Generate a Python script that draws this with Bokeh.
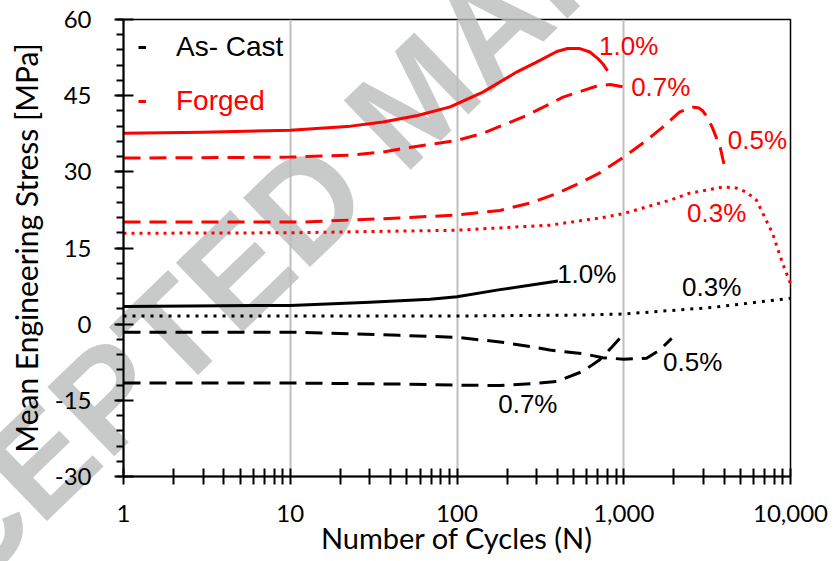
from bokeh.plotting import figure
from bokeh.models import (Range1d, FixedTicker, SingleIntervalTicker, NumeralTickFormatter,
                          Label, Legend, LegendItem)
from bokeh.core.properties import value
from bokeh.embed import file_html
from bokeh.resources import INLINE

# ---- mean engineering stress [MPa] vs number of cycles ----
# Forged material
forged_10_n = [1, 3, 10, 23, 36, 58, 91, 143, 229, 300, 397, 460, 540, 626, 700, 748, 800]
forged_10_s = [37.6, 37.8, 38.2, 39.0, 39.8, 41.1, 42.8, 45.7, 49.7, 51.6, 53.7, 54.3, 54.3, 53.6, 52.3, 51.3, 49.9]

forged_07_n = [1, 10, 23, 36, 52, 100, 143, 262, 432, 690, 830, 1000]
forged_07_s = [32.7, 32.9, 33.3, 33.9, 34.8, 36.2, 37.6, 41.1, 44.7, 46.9, 47.2, 46.7]

forged_05_n = [1, 11.5, 45, 100, 181, 285, 400, 545, 718, 1000, 1370, 1714, 2165, 2590, 2800,
               2960, 3185, 3410, 3790, 4030]
forged_05_s = [20.1, 20.1, 20.9, 21.5, 22.4, 24.0, 25.8, 27.8, 29.8, 32.9, 36.2, 38.8, 41.8, 42.7, 42.6,
               42.1, 40.7, 38.6, 34.8, 30.9]

forged_03_n = [1, 10, 100, 360, 718, 1000, 1885, 2484, 3140, 3920, 4750, 5450, 6250, 7800, 8960, 10000]
forged_03_s = [17.9, 18.0, 18.5, 19.5, 20.9, 21.8, 24.4, 25.8, 26.4, 27.0, 26.8, 26.0, 24.4, 17.9, 12.0, 8.0]

# As-cast material
cast_10_n = [1, 10, 30, 69, 100, 181, 403]
cast_10_s = [3.5, 3.7, 4.3, 4.9, 5.4, 6.8, 8.5]

cast_03_n = [1, 100, 545, 1000, 3410, 10000]
cast_03_s = [1.6, 1.6, 1.8, 2.0, 3.3, 5.1]

cast_05_n = [1, 11.5, 45, 100, 181, 285, 360, 568, 750, 1000, 1370, 1643, 1938]
cast_05_s = [-1.6, -1.6, -2.2, -2.6, -3.5, -4.5, -5.1, -5.8, -6.6, -6.9, -6.7, -5.1, -2.8]

cast_07_n = [1, 10, 50, 100, 181, 285, 397, 568, 718, 850, 946]
cast_07_s = [-11.6, -11.6, -11.8, -12.0, -12.1, -11.7, -11.3, -9.3, -7.0, -4.5, -2.8]

x_ticks = [1, 10, 100, 1000, 10000]
y_ticks = [-30, -15, 0, 15, 30, 45, 60]

RED = "#ff0000"
BLACK = "#000000"
SOLID, DASHED, DOTTED_R, DOTTED_K = "solid", "17 9", "3 5", "3 6"

p = figure(width=839, height=561, x_axis_type="log",
           x_range=Range1d(1, 10000), y_range=Range1d(-30, 60),
           output_backend="svg", toolbar_location=None,
           min_border_left=123, min_border_right=49,
           min_border_top=19, min_border_bottom=85)
p.background_fill_color = "white"
p.border_fill_color = "white"
p.outline_line_color = "black"
p.outline_line_width = 1.5

# watermark text across the figure, drawn under the curves and axes
p.text(x=[56], y=[44.5], text=["ACCEPTED MANUSCRIPT"], angle=44, angle_units="deg",
       text_align="center", text_baseline="middle",
       text_font=value("Liberation Sans"), text_font_style="bold",
       text_font_size="140px", text_color="#babbbc", text_alpha=0.8, level="guide")

# axes
p.xaxis.ticker = FixedTicker(ticks=x_ticks,
                             minor_ticks=[m * 10 ** k for k in range(4) for m in range(2, 10)])
p.xaxis.formatter = NumeralTickFormatter(format="0,0")
p.yaxis.ticker = SingleIntervalTicker(interval=15, num_minor_ticks=5)
p.yaxis.major_label_overrides = {t: str(t) for t in y_ticks}

for ax in (p.xaxis, p.yaxis):
    ax.level = "annotation"
    ax.axis_line_color = "black"
    ax.axis_line_width = 2
    ax.major_tick_line_color = "black"
    ax.major_tick_line_width = 2
    ax.minor_tick_line_color = "black"
    ax.minor_tick_line_width = 2
    ax.major_label_text_font = "Lato"
    ax.major_label_text_font_size = "24px"
    ax.major_label_text_color = "black"
    ax.axis_label_text_font = "Lato"
    ax.axis_label_text_font_style = "normal"
    ax.axis_label_text_color = "black"

p.xaxis.major_tick_in = 8
p.xaxis.major_tick_out = 8
p.xaxis.minor_tick_in = 8
p.xaxis.minor_tick_out = 8
p.xaxis.major_label_standoff = 20
p.xaxis.axis_label = "Number of Cycles (N)"
p.xaxis.axis_label_text_font_size = "29px"
p.xaxis.axis_label_standoff = -5

p.yaxis.major_tick_in = 10
p.yaxis.major_tick_out = 9
p.yaxis.minor_tick_in = 0
p.yaxis.minor_tick_out = 7
p.yaxis.major_label_standoff = 23
p.yaxis.axis_label = "Mean Engineering Stress [MPa]"
p.yaxis.axis_label_text_font_size = "30px"
p.yaxis.axis_label_standoff = 8

p.xgrid.ticker = FixedTicker(ticks=[10, 100, 1000])
p.xgrid.grid_line_color = "#bfbfbf"
p.xgrid.grid_line_width = 2
p.ygrid.visible = False

series = [
    (forged_10_n, forged_10_s, RED, SOLID),
    (forged_07_n, forged_07_s, RED, DASHED),
    (forged_05_n, forged_05_s, RED, DASHED),
    (forged_03_n, forged_03_s, RED, DOTTED_R),
    (cast_10_n, cast_10_s, BLACK, SOLID),
    (cast_03_n, cast_03_s, BLACK, DOTTED_K),
    (cast_05_n, cast_05_s, BLACK, DASHED),
    (cast_07_n, cast_07_s, BLACK, DASHED),
]
renderers = []
for n, s, color, dash in series:
    r = p.line(n, s, line_color=color, line_width=3, line_dash=dash,
               line_join="round", level="annotation")
    renderers.append(r)

# strain amplitude labels next to each curve
labels = [
    ("1.0%", 1070, 54.7, RED), ("0.7%", 1667, 46.7, RED),
    ("0.5%", 6340, 36.2, RED), ("0.3%", 3605, 21.9, RED),
    ("1.0%", 600, 9.8, BLACK), ("0.3%", 3365, 7.3, BLACK),
    ("0.5%", 2590, -7.5, BLACK), ("0.7%", 266, -15.7, BLACK),
]
for txt, lx, ly, color in labels:
    p.add_layout(Label(x=lx, y=ly, text=txt, text_align="center",
                       text_baseline="middle", text_font="Liberation Sans",
                       text_font_size="26px", text_color=color))

# legend: one entry per material, each in its own colour
def make_legend(label, rend, color, y):
    lg = Legend(items=[LegendItem(label=label, renderers=[rend])],
                location=(15, y), padding=0, margin=0,
                border_line_color=None, background_fill_alpha=0,
                glyph_width=8, glyph_height=20, label_standoff=30,
                label_text_font="Liberation Sans", label_text_font_size="28px",
                label_text_color=color)
    p.add_layout(lg)

make_legend("As- Cast", renderers[7], BLACK, 413)
make_legend("Forged", renderers[1], RED, 359)

open("out.html", "w").write(file_html(p, INLINE))
